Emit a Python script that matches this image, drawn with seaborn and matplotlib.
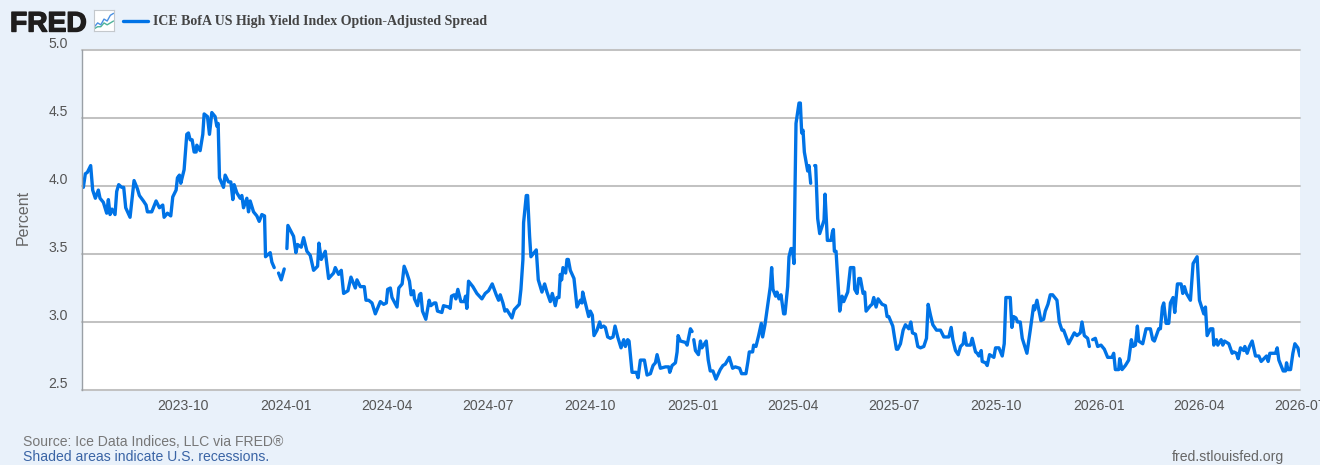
"""FRED style chart: ICE BofA US High Yield Index Option-Adjusted Spread"""
import numpy as np
import pandas as pd
import matplotlib
matplotlib.use("Agg")
import matplotlib.pyplot as plt
import matplotlib.dates as mdates
import matplotlib.patheffects as pe
from matplotlib.lines import Line2D
from matplotlib.transforms import ScaledTranslation
import seaborn as sns

nan = float("nan")

# ---- data -----------------------------------------------------------------
START_DATE = "2023-07-02"
END_DATE = "2026-07-01"

# days since START_DATE
days = [
    1.2, 3.0, 4.8, 7.8, 9.6, 12.0, 14.7, 16.2, 19.2, 22.2,
    23.7, 25.2, 27.0, 29.7, 31.2, 33.0, 35.7, 37.5, 39.3, 43.2,
    45.6, 46.8, 49.8, 51.6, 55.2, 57.6, 58.8, 62.7, 66.6, 69.6,
    72.6, 73.8, 76.8, 79.8, 81.6, 84.6, 85.8, 87.6, 88.8, 91.8,
    94.2, 95.7, 97.2, 99.0, 100.8, 102.6, 103.2, 106.2, 108.6, 109.8,
    112.8, 114.6, 116.7, 119.7, 121.2, 122.4, 123.6, 127.2, 128.7, 131.7,
    133.8, 135.6, 136.8, 139.2, 142.2, 143.7, 145.2, 148.2, 149.7, 151.2,
    154.2, 157.2, 159.3, 161.7, 164.1, 165.0, 169.2, 170.7, 172.8, 175.0,
    176.7, 179.1, 181.8, 183.0, 184.2, 185.1, 190.2, 192.3, 193.8, 197.1,
    199.2, 202.2, 205.2, 208.2, 211.8, 213.0, 215.1, 218.7, 221.7, 226.2,
    227.7, 230.7, 233.1, 235.2, 239.1, 241.8, 245.7, 247.2, 250.2, 253.8,
    255.3, 257.7, 260.7, 263.7, 268.2, 271.2, 273.6, 274.8, 277.2, 278.7,
    283.2, 284.8, 287.8, 289.6, 292.0, 294.4, 295.9, 298.0, 298.9, 301.6,
    303.4, 304.6, 306.1, 309.1, 312.1, 313.6, 316.6, 318.1, 319.6, 323.5,
    325.0, 329.5, 331.0, 332.2, 334.6, 336.1, 337.9, 340.6, 343.6, 344.8,
    346.0, 347.5, 351.4, 355.0, 359.5, 362.5, 365.5, 368.8, 372.4, 374.5,
    376.0, 378.4, 380.2, 382.0, 386.5, 388.6, 393.1, 394.6, 396.4, 397.0,
    399.4, 400.6, 402.4, 403.6, 408.4, 410.2, 413.5, 415.9, 418.0, 421.0,
    422.8, 425.5, 427.0, 428.8, 430.0, 431.2, 432.4, 434.8, 436.0, 437.2,
    439.0, 442.3, 445.0, 448.0, 449.5, 450.1, 452.5, 455.5, 457.0, 458.8,
    460.3, 463.0, 465.4, 466.6, 469.0, 470.5, 472.6, 475.0, 477.4, 479.2,
    481.6, 484.6, 487.0, 488.5, 490.6, 491.8, 494.5, 498.4, 499.9, 502.0,
    505.6, 508.0, 511.0, 513.4, 515.5, 517.0, 520.0, 524.5, 527.5, 528.4,
    530.5, 533.5, 535.0, 535.9, 538.0, 542.5, 544.0, 547.0, 548.5, 549.2,
    550.0, 551.5, 554.2, 556.0, 557.3, 561.2, 563.0, 564.8, 567.2, 569.9,
    573.8, 576.2, 578.3, 581.9, 584.9, 587.3, 591.2, 593.0, 596.9, 598.7,
    599.9, 602.9, 603.8, 605.9, 608.3, 610.7, 611.9, 614.0, 618.8, 620.0,
    621.2, 623.6, 624.8, 626.6, 628.4, 630.8, 632.0, 634.4, 635.6, 637.4,
    638.6, 640.1, 641.0, 641.9, 644.6, 645.8, 647.0, 648.2, 649.4, 652.4,
    653.6, 655.1, 657.0, 658.7, 659.6, 661.4, 663.2, 665.6, 667.1, 668.0,
    670.1, 673.4, 674.6, 675.5, 676.4, 677.9, 681.2, 683.3, 684.8, 688.4,
    690.8, 693.8, 694.7, 696.8, 698.3, 699.8, 702.2, 703.7, 704.9, 708.8,
    710.3, 711.8, 713.9, 715.7, 719.3, 722.3, 723.8, 725.3, 728.9, 730.4,
    732.2, 733.4, 735.8, 738.2, 740.3, 743.3, 745.1, 746.6, 749.3, 751.4,
    753.8, 756.8, 759.2, 760.7, 762.8, 764.9, 768.2, 771.8, 774.8, 779.3,
    781.4, 782.9, 785.3, 787.7, 789.8, 792.2, 793.4, 795.2, 798.8, 800.3,
    803.3, 804.8, 806.3, 808.4, 809.3, 812.3, 813.8, 815.9, 819.8, 821.3,
    824.3, 827.3, 829.1, 830.6, 834.5, 836.0, 837.5, 839.6, 841.1, 843.5,
    845.3, 849.5, 852.5, 855.5, 856.4, 858.5, 862.1, 864.5, 866.0, 868.4,
    870.5, 872.6, 876.5, 878.6, 881.0, 882.5, 887.0, 892.1, 894.5, 897.5,
    899.0, 901.1, 904.1, 905.6, 907.0, 908.6, 911.0, 913.1, 916.1, 919.1,
    922.1, 926.0, 927.5, 929.0, 932.0, 932.9, 935.0, 938.0, 941.0, 943.4,
    944.9, 947.0, 948.8, 950.0, 953.6, 956.6, 960.5, 962.6, 964.1, 968.0,
    969.5, 971.3, 972.5, 974.6, 977.0, 978.5, 980.9, 982.4, 984.8, 988.1,
    989.6, 991.1, 992.9, 996.5, 998.9, 1002.5, 1004.6, 1008.5, 1010.0, 1011.5,
    1014.5, 1016.6, 1017.5, 1019.9, 1021.1, 1024.1, 1025.6, 1027.1, 1031.0, 1034.0,
    1035.5, 1037.9, 1039.4, 1041.5, 1044.5, 1045.4, 1047.5, 1049.6, 1052.0, 1055.0,
    1058.0, 1060.1, 1062.5, 1064.9, 1066.4, 1067.9, 1073.0, 1074.5, 1076.0, 1079.9,
    1082.0, 1082.9, 1084.1, 1086.5, 1088.6, 1090.4, 1093.1, 1094.9,
]

# percent, nan marks a missing day (line breaks there)
spread = [
    3.99, 4.09, 4.10, 4.15, 3.97, 3.91, 3.97, 3.91, 3.88, 3.80,
    3.90, 3.79, 3.83, 3.79, 3.96, 4.01, 3.99, 3.99, 3.84, 3.77,
    3.95, 4.04, 3.98, 3.93, 3.89, 3.86, 3.81, 3.81, 3.89, 3.84,
    3.86, 3.77, 3.80, 3.78, 3.92, 3.97, 4.06, 4.08, 4.02, 4.12,
    4.38, 4.39, 4.34, 4.34, 4.25, 4.25, 4.30, 4.26, 4.38, 4.53,
    4.51, 4.38, 4.54, 4.51, 4.44, 4.46, 4.06, 3.99, 4.08, 4.03,
    4.03, 3.90, 4.01, 3.95, 3.91, 3.93, 3.84, 3.91, 3.81, 3.89,
    3.81, 3.78, 3.74, 3.79, 3.78, 3.48, 3.51, 3.44, 3.40, nan,
    3.36, 3.31, 3.39, nan, 3.54, 3.71, 3.63, 3.51, 3.57, 3.55,
    3.62, 3.52, 3.49, 3.38, 3.41, 3.58, 3.46, 3.52, 3.32, 3.36,
    3.40, 3.35, 3.38, 3.21, 3.23, 3.33, 3.25, 3.31, 3.26, 3.26,
    3.16, 3.16, 3.14, 3.06, 3.15, 3.13, 3.14, 3.24, 3.25, 3.18,
    3.11, 3.25, 3.28, 3.41, 3.36, 3.30, 3.20, 3.23, 3.17, 3.12,
    3.20, 3.21, 3.08, 3.02, 3.16, 3.12, 3.14, 3.14, 3.08, 3.07,
    3.12, 3.11, 3.10, 3.19, 3.20, 3.17, 3.24, 3.15, 3.15, 3.19,
    3.10, 3.30, 3.26, 3.21, 3.17, 3.21, 3.23, 3.28, 3.20, 3.16,
    3.20, 3.14, 3.08, 3.09, 3.03, 3.09, 3.13, 3.24, 3.46, 3.73,
    3.93, 3.93, 3.63, 3.48, 3.53, 3.31, 3.22, 3.28, 3.22, 3.15,
    3.21, 3.12, 3.18, 3.18, 3.35, 3.31, 3.40, 3.36, 3.46, 3.46,
    3.38, 3.32, 3.11, 3.16, 3.14, 3.22, 3.14, 3.04, 3.08, 3.05,
    2.90, 2.94, 3.00, 2.96, 2.97, 2.96, 2.89, 2.88, 2.89, 2.97,
    2.89, 2.81, 2.87, 2.82, 2.87, 2.86, 2.63, 2.63, 2.59, 2.72,
    2.72, 2.61, 2.62, 2.68, 2.70, 2.76, 2.66, 2.67, 2.67, 2.63,
    2.68, 2.70, 2.78, 2.90, 2.86, 2.85, 2.83, 2.95, 2.93, nan,
    2.87, 2.79, 2.76, 2.86, 2.81, 2.86, 2.72, 2.64, 2.64, 2.58,
    2.65, 2.68, 2.69, 2.74, 2.66, 2.67, 2.66, 2.62, 2.62, 2.71,
    2.78, 2.78, 2.83, 2.82, 2.90, 2.99, 2.89, 2.98, 3.26, 3.40,
    3.24, 3.19, 3.22, 3.17, 3.20, 3.06, 3.06, 3.26, 3.48, 3.54,
    3.54, 3.43, 3.97, 4.46, 4.61, 4.61, 4.39, 4.41, 4.25, 4.11,
    4.15, 4.02, nan, 4.15, 4.15, 3.76, 3.65, 3.71, 3.75, 3.94,
    3.60, 3.60, 3.66, 3.68, 3.52, 3.52, 3.08, 3.19, 3.15, 3.22,
    3.40, 3.40, 3.24, 3.21, 3.32, 3.32, 3.21, 3.22, 3.08, 3.12,
    3.13, 3.18, 3.11, 3.17, 3.13, 3.12, 3.04, 3.04, 2.97, 2.89,
    2.80, 2.80, 2.84, 2.94, 2.98, 2.95, 3.00, 2.92, 2.91, 2.82,
    2.81, 2.82, 2.88, 3.13, 3.05, 2.98, 2.94, 2.94, 2.89, 2.89,
    2.96, 2.87, 2.79, 2.76, 2.82, 2.84, 2.92, 2.83, 2.83, 2.88,
    2.78, 2.77, 2.75, 2.79, 2.71, 2.70, 2.68, 2.76, 2.74, 2.81,
    2.81, 2.75, 2.84, 3.18, 3.18, 2.96, 3.04, 3.03, 3.00, 3.00,
    2.88, 2.77, 2.94, 3.12, 3.09, 3.16, 3.01, 3.02, 3.08, 3.13,
    3.20, 3.20, 3.16, 3.00, 2.94, 2.94, 2.84, 2.92, 2.90, 2.92,
    3.00, 2.90, 2.88, 2.82, nan, 2.87, 2.88, 2.82, 2.83, 2.80,
    2.74, 2.74, 2.77, 2.65, 2.65, 2.73, 2.65, 2.68, 2.72, 2.87,
    2.82, 2.83, 2.97, 2.86, 2.84, 2.95, 2.95, 2.87, 2.86, 2.95,
    2.95, 3.11, 3.14, 2.99, 2.99, 3.14, 3.18, 3.07, 3.28, 3.28,
    3.21, 3.26, 3.21, 3.16, 3.43, 3.48, 3.16, 3.06, 3.11, 2.90,
    2.95, 2.95, 2.83, 2.87, 2.83, 2.87, 2.83, 2.86, 2.84, 2.77,
    2.78, 2.77, 2.73, 2.81, 2.79, 2.82, 2.77, 2.82, 2.86, 2.75,
    2.75, 2.71, 2.73, 2.75, 2.71, 2.77, 2.77, 2.81, 2.72, 2.64,
    2.64, 2.70, 2.65, 2.65, 2.77, 2.84, 2.81, 2.75,
]

y_ticks = [2.5, 3.0, 3.5, 4.0, 4.5, 5.0]
icon_blue = [1, 3, 2, 5, 4, 7, 8]
icon_green = [0, 1, 1, 3, 2, 3, 4]
SERIES_NAME = "ICE BofA US High Yield Index Option-Adjusted Spread"

# ---- style ----------------------------------------------------------------
BG = "#e9f1fa"
BLUE = "#0073e6"
GRID = "#c2c2c2"
TEXT = "#555555"
W, H = 1320, 465

sns.set_theme(style="white")
plt.rcParams["font.family"] = ["Liberation Sans", "DejaVu Sans"]

df = pd.DataFrame({"days": days, "spread": spread})
df["date"] = pd.Timestamp(START_DATE) + pd.to_timedelta(df["days"], unit="D")
df["segment"] = df["spread"].isna().cumsum()
df = df.dropna(subset=["spread"])

fig = plt.figure(figsize=(W / 100, H / 100), dpi=100, facecolor=BG)
ax = fig.add_axes([82 / W, 1 - 390 / H, 1218 / W, 340 / H], facecolor="white")

sns.lineplot(data=df, x="date", y="spread", units="segment", estimator=None,
             color=BLUE, linewidth=2.4, ax=ax, legend=False)

ax.set_xlim(pd.Timestamp(START_DATE), pd.Timestamp(END_DATE))
ax.set_ylim(2.5, 5.0)
ax.set_yticks(y_ticks)
ax.set_yticklabels([f"{v:.1f}" for v in y_ticks])
ax.xaxis.set_major_locator(mdates.MonthLocator(bymonth=[1, 4, 7, 10]))
ax.xaxis.set_major_formatter(mdates.DateFormatter("%Y-%m"))
ax.set_xlabel("")
ax.set_ylabel("")

ax.yaxis.grid(True, color=GRID, linewidth=1.45, zorder=0)
ax.set_axisbelow(True)
for gl in ax.get_ygridlines():
    gl.set_clip_on(False)
for name in ["top", "right", "bottom"]:
    ax.spines[name].set_visible(False)
ax.spines["left"].set_color("#9aa0a6")
ax.spines["left"].set_linewidth(1.0)

ax.tick_params(axis="y", length=0, pad=10, labelsize=10.1, labelcolor=TEXT)
ax.tick_params(axis="x", length=7.2, width=0.8, color="#c9d6e6", pad=-1,
               labelsize=10.1, labelcolor=TEXT)
# FRED puts the y labels just above their gridline
lift = ScaledTranslation(0, 2 / 100, fig.dpi_scale_trans)
for lab in ax.get_yticklabels():
    lab.set_verticalalignment("baseline")
    lab.set_transform(lab.get_transform() + lift)

# y title and footer
fig.text(23 / W, 1 - 217 / H, "Percent", rotation=90, fontsize=11.5, color="#666666",
         ha="center", va="center")
fig.text(23 / W, 1 - 446 / H, "Source: Ice Data Indices, LLC via FRED\u00ae", fontsize=10.1,
         color="#777777", ha="left", va="baseline")
fig.text(23 / W, 1 - 461 / H, "Shaded areas indicate U.S. recessions.", fontsize=10.1,
         color="#3a64a5", ha="left", va="baseline")
fig.text(1284 / W, 1 - 461 / H, "fred.stlouisfed.org", fontsize=10.1,
         color="#666666", ha="right", va="baseline")

# header: logo, icon, legend entry
fig.text(10 / W, 1 - 31.5 / H, "FRED", fontsize=20.3, fontweight="bold", color="#1f1d1d",
         ha="left", va="baseline",
         path_effects=[pe.withStroke(linewidth=1.0, foreground="#1f1d1d")])
icon = fig.add_axes([93.5 / W, 1 - 31.5 / H, 21 / W, 21 / H], facecolor="white")
sns.lineplot(x=range(len(icon_blue)), y=icon_blue, color="#4a90e2", linewidth=1.0, ax=icon)
sns.lineplot(x=range(len(icon_green)), y=icon_green, color="#4fb39a", linewidth=1.0, ax=icon)
icon.set_xticks([])
icon.set_yticks([])
icon.set_xlabel("")
icon.set_ylabel("")
icon.set_ylim(-1.5, 9.5)
for sp in icon.spines.values():
    sp.set_color("#c4c8cc")
    sp.set_linewidth(0.8)

fig.add_artist(Line2D([123 / W, 148 / W], [1 - 21.5 / H, 1 - 21.5 / H], color=BLUE, linewidth=2.4))
fig.text(153 / W, 1 - 25.5 / H, SERIES_NAME, fontsize=10.0, fontweight="bold",
         family=["Liberation Serif", "DejaVu Serif"], color="#444444", ha="left", va="baseline")

fig.savefig("out.png", dpi=100, facecolor=BG)
plt.close(fig)
